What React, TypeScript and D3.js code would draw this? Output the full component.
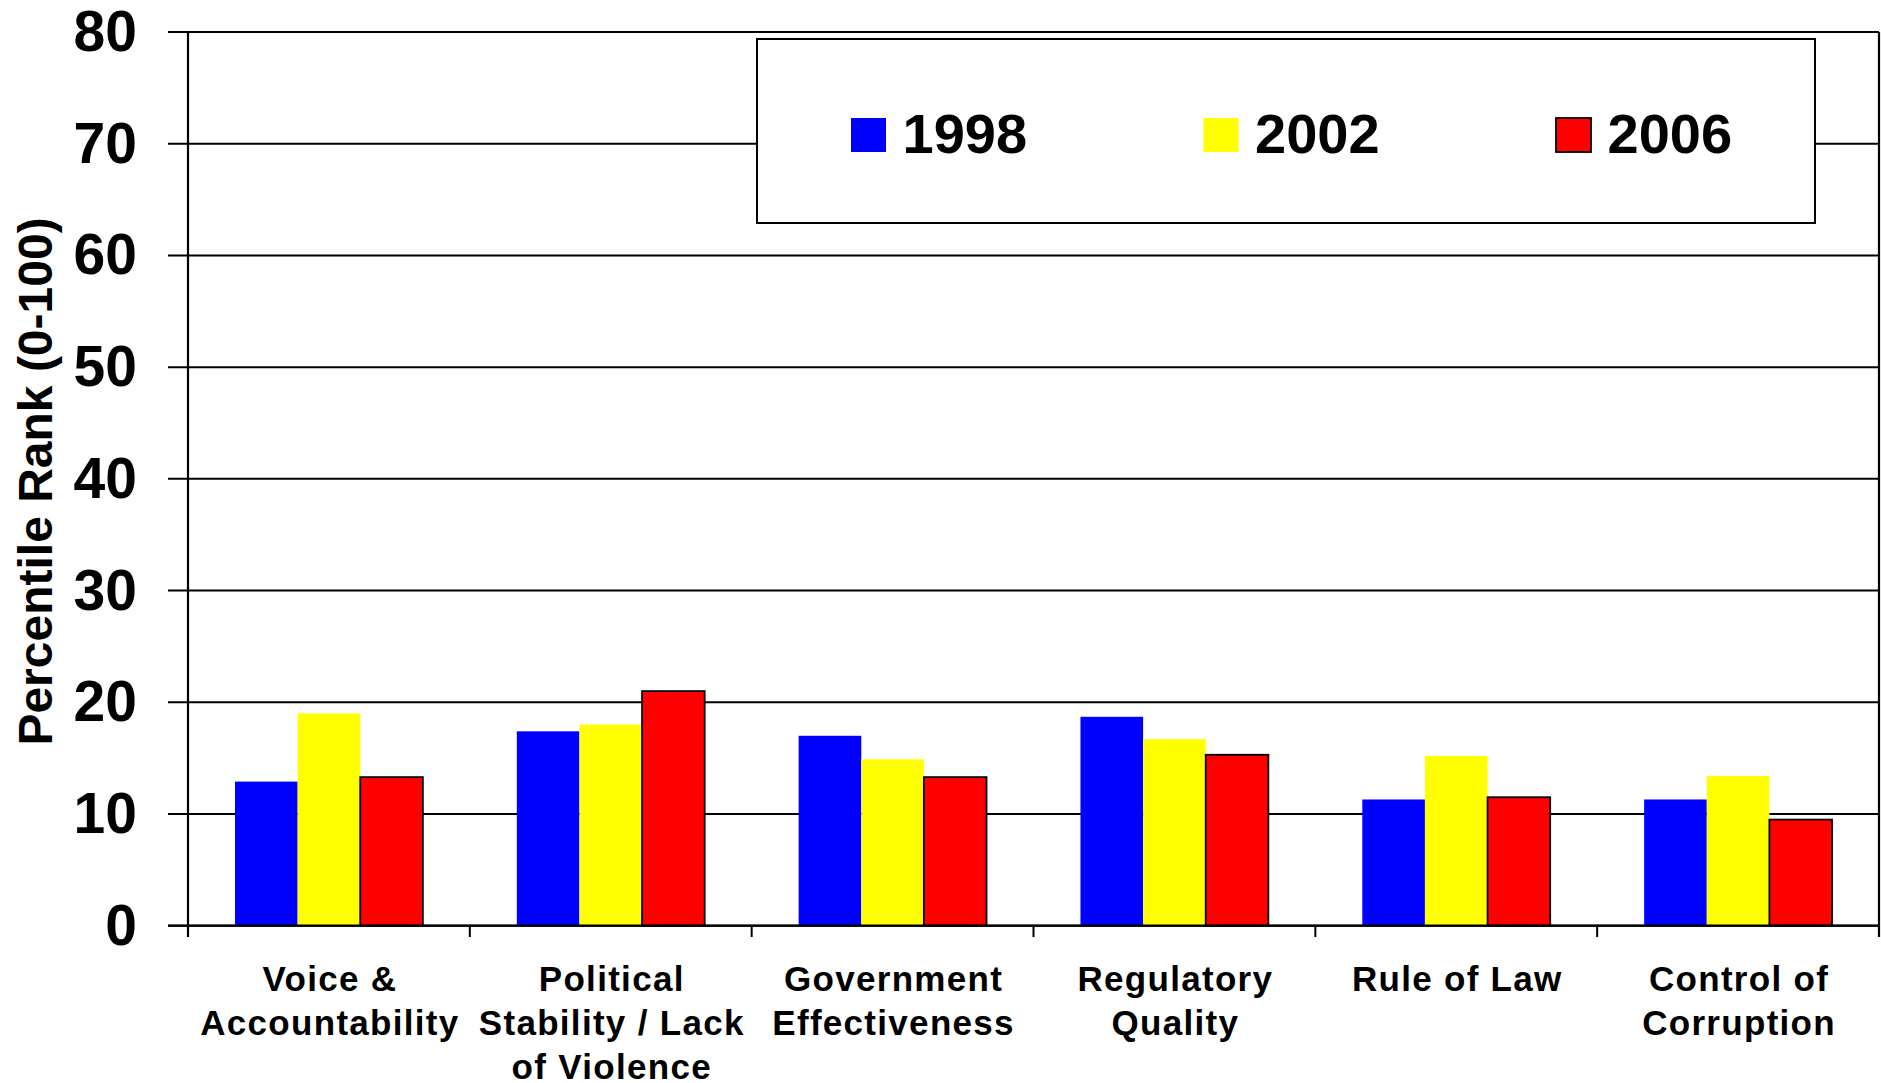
import React from "react";
import * as d3 from "d3";

const categories: string[][] = [
  ["Voice &", "Accountability"],
  ["Political", "Stability / Lack", "of Violence"],
  ["Government", "Effectiveness"],
  ["Regulatory", "Quality"],
  ["Rule of Law"],
  ["Control of", "Corruption"],
];
const years = ["1998", "2002", "2006"];
const values1998 = [12.9, 17.4, 17.0, 18.7, 11.3, 11.3];
const values2002 = [19.0, 18.0, 14.9, 16.7, 15.2, 13.4];
const values2006 = [13.3, 21.0, 13.3, 15.3, 11.5, 9.5];
const yTicks = [0, 10, 20, 30, 40, 50, 60, 70, 80];
const colors = ["#0000FF", "#FFFF00", "#FF0000"];

const W = 1881;
const H = 1083;
const left = 188;
const right = 1879;
const top = 32;
const bottom = 925.7;
const FONT = "'Liberation Sans', Arial, sans-serif";

export default function App() {
  const series = [values1998, values2002, values2006];
  const catIdx = categories.map((_, i) => String(i));
  const x0 = d3.scaleBand<string>().domain(catIdx).range([left, right]).paddingInner(0).paddingOuter(0);
  const x1 = d3
    .scaleBand<string>()
    .domain(years)
    .range([0, x0.bandwidth()])
    .paddingInner(0)
    .paddingOuter(0.75);
  const y = d3.scaleLinear().domain([0, 80]).range([bottom, top]);

  const boundaries = d3.range(categories.length + 1).map((i) => left + i * x0.step());

  return (
    <svg
      width={W}
      height={H}
      style={{ position: "absolute", left: 0, top: 0, background: "#fff" }}
      fontFamily={FONT}
      fontWeight="bold"
    >
      <rect x={0} y={0} width={W} height={H} fill="#fff" />
      {/* gridlines + y ticks */}
      {yTicks.map((t) => (
        <line key={"g" + t} x1={168} x2={right} y1={y(t)} y2={y(t)} stroke="#000" strokeWidth={2} />
      ))}
      {yTicks.map((t) => (
        <text key={"t" + t} x={137} y={y(t) + 19} textAnchor="end" fontSize={57} fill="#000">
          {t}
        </text>
      ))}
      {/* bars */}
      {series.map((vals, si) =>
        vals.map((v, ci) => (
          <rect
            key={`b${si}-${ci}`}
            x={(x0(String(ci)) as number) + (x1(years[si]) as number)}
            y={y(v)}
            width={x1.bandwidth()}
            height={y(0) - y(v)}
            fill={colors[si]}
            stroke={si === 2 ? "#000" : "none"}
            strokeWidth={si === 2 ? 1.8 : 0}
          />
        ))
      )}
      {/* axes */}
      <line x1={168} x2={right} y1={bottom} y2={bottom} stroke="#000" strokeWidth={2.2} />
      <line x1={left} x2={left} y1={top} y2={937} stroke="#000" strokeWidth={2.2} />
      <line x1={right} x2={right} y1={top} y2={937} stroke="#000" strokeWidth={2.2} />
      {boundaries.map((bx, i) => (
        <line key={"xt" + i} x1={bx} x2={bx} y1={bottom} y2={937} stroke="#000" strokeWidth={2} />
      ))}
      {/* category labels */}
      {categories.map((lines, ci) => (
        <text
          key={"c" + ci}
          x={(x0(String(ci)) as number) + x0.bandwidth() / 2 + 1}
          y={990.7}
          textAnchor="middle"
          fontSize={35}
          letterSpacing={1.3}
          fill="#000"
        >
          {lines.map((l, li) => (
            <tspan key={li} x={(x0(String(ci)) as number) + x0.bandwidth() / 2 + 1} dy={li === 0 ? 0 : 44}>
              {l}
            </tspan>
          ))}
        </text>
      ))}
      {/* y title */}
      <text
        transform={`translate(52,481.5) rotate(-90)`}
        textAnchor="middle"
        fontSize={48}
        fill="#000"
      >
        Percentile Rank (0-100)
      </text>
      {/* legend */}
      <rect x={757} y={39} width={1058} height={184} fill="#fff" stroke="#000" strokeWidth={2} />
      {years.map((yr, i) => {
        const sx = 851 + i * 352.5;
        return (
          <g key={"l" + yr}>
            <rect
              x={sx}
              y={118}
              width={35}
              height={34}
              fill={colors[i]}
              stroke={i === 2 ? "#000" : "none"}
              strokeWidth={i === 2 ? 1.8 : 0}
            />
            <text x={sx + 51.5} y={153} fontSize={56} fill="#000">
              {yr}
            </text>
          </g>
        );
      })}
    </svg>
  );
}
